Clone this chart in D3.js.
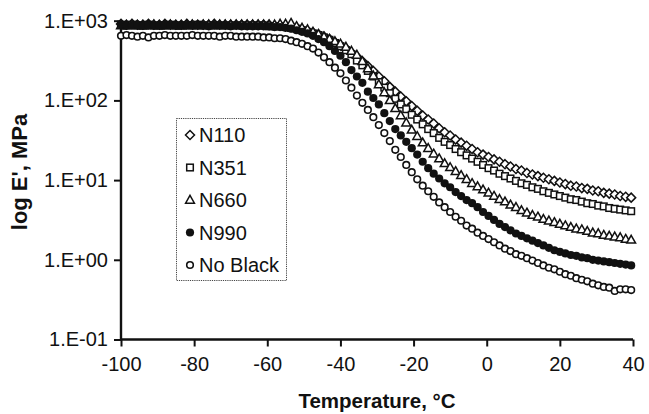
<!DOCTYPE html>
<html>
<head>
<meta charset="utf-8">
<script src="https://cdn.jsdelivr.net/npm/d3@7/dist/d3.min.js"></script>
<style>
  html, body { margin: 0; padding: 0; background: #fff; }
  svg { display: block; }
  text { font-family: "Liberation Sans", Arial, Helvetica, sans-serif; fill: #111; }
</style>
</head>
<body>
<svg id="chart" width="649" height="414"></svg>
<script>
// Storage modulus (log10 of E', MPa) against temperature for rubber compounds
const temps = [
  -100, -98.5, -97, -95.5, -94, -92.5, -91, -89.5, -88, -86.5,
  -85, -83.5, -82, -80.5, -79, -77.5, -76, -74.5, -73, -71.5,
  -70, -68.5, -67, -65.5, -64, -62.5, -61, -59.5, -58, -56.5,
  -55, -53.5, -52, -50.5, -49, -47.5, -46, -44.5, -43, -41.5,
  -40, -38.5, -37, -35.5, -34, -32.5, -31, -29.5, -28, -26.5,
  -25, -23.5, -22, -20.5, -19, -17.5, -16, -14.5, -13, -11.5,
  -10, -8.5, -7, -5.5, -4, -2.5, -1, 0.5, 2, 3.5,
  5, 6.5, 8, 9.5, 11, 12.5, 14, 15.5, 17, 18.5,
  20, 21.5, 23, 24.5, 26, 27.5, 29, 30.5, 32, 33.5,
  35, 36.5, 38, 39.5
];

const logN110 = [
  2.96, 2.95, 2.96, 2.95, 2.95, 2.96, 2.95, 2.95, 2.96, 2.95,
  2.95, 2.95, 2.96, 2.95, 2.95, 2.95, 2.95, 2.96, 2.95, 2.95,
  2.95, 2.95, 2.95, 2.95, 2.95, 2.95, 2.95, 2.95, 2.94, 2.94,
  2.93, 2.92, 2.91, 2.89, 2.87, 2.85, 2.83, 2.80, 2.77, 2.73,
  2.69, 2.65, 2.60, 2.55, 2.49, 2.43, 2.37, 2.30, 2.24, 2.17,
  2.11, 2.05, 1.99, 1.93, 1.87, 1.81, 1.76, 1.71, 1.65, 1.60,
  1.56, 1.51, 1.47, 1.43, 1.39, 1.35, 1.32, 1.29, 1.26, 1.23,
  1.20, 1.17, 1.14, 1.12, 1.09, 1.07, 1.05, 1.03, 1.01, 0.99,
  0.97, 0.95, 0.93, 0.92, 0.90, 0.89, 0.87, 0.86, 0.84, 0.83,
  0.82, 0.80, 0.79, 0.78
];

const logN351 = [
  2.95, 2.94, 2.95, 2.94, 2.94, 2.95, 2.94, 2.94, 2.94, 2.95,
  2.94, 2.94, 2.94, 2.94, 2.95, 2.94, 2.94, 2.94, 2.94, 2.94,
  2.94, 2.94, 2.94, 2.94, 2.94, 2.94, 2.94, 2.93, 2.93, 2.93,
  2.92, 2.91, 2.90, 2.88, 2.86, 2.84, 2.82, 2.79, 2.76, 2.72,
  2.68, 2.63, 2.58, 2.50, 2.44, 2.37, 2.30, 2.23, 2.16, 2.09,
  2.02, 1.95, 1.89, 1.82, 1.76, 1.70, 1.64, 1.59, 1.53, 1.48,
  1.44, 1.39, 1.35, 1.31, 1.27, 1.23, 1.19, 1.15, 1.12, 1.08,
  1.05, 1.02, 0.99, 0.96, 0.94, 0.91, 0.89, 0.86, 0.84, 0.82,
  0.80, 0.78, 0.76, 0.75, 0.73, 0.71, 0.70, 0.68, 0.67, 0.65,
  0.64, 0.63, 0.62, 0.61
];

const logN660 = [
  2.94, 2.94, 2.95, 2.94, 2.94, 2.94, 2.95, 2.94, 2.94, 2.95,
  2.94, 2.94, 2.95, 2.95, 2.94, 2.95, 2.95, 2.95, 2.95, 2.95,
  2.95, 2.95, 2.95, 2.95, 2.95, 2.95, 2.95, 2.95, 2.95, 2.96,
  2.96, 2.97, 2.93, 2.91, 2.89, 2.86, 2.83, 2.80, 2.77, 2.74,
  2.71, 2.67, 2.62, 2.57, 2.49, 2.40, 2.31, 2.20, 2.10, 2.00,
  1.90, 1.81, 1.72, 1.63, 1.55, 1.47, 1.40, 1.33, 1.27, 1.21,
  1.16, 1.11, 1.06, 1.01, 0.96, 0.92, 0.88, 0.84, 0.80, 0.76,
  0.73, 0.69, 0.66, 0.62, 0.59, 0.56, 0.54, 0.51, 0.49, 0.47,
  0.45, 0.43, 0.41, 0.39, 0.38, 0.36, 0.34, 0.33, 0.31, 0.30,
  0.29, 0.28, 0.26, 0.25
];

const logN990 = [
  2.95, 2.94, 2.94, 2.95, 2.94, 2.94, 2.94, 2.94, 2.95, 2.94,
  2.94, 2.94, 2.94, 2.94, 2.94, 2.94, 2.93, 2.94, 2.94, 2.94,
  2.93, 2.94, 2.93, 2.93, 2.93, 2.93, 2.93, 2.93, 2.92, 2.92,
  2.91, 2.90, 2.88, 2.86, 2.84, 2.81, 2.77, 2.73, 2.68, 2.62,
  2.56, 2.48, 2.38, 2.30, 2.22, 2.11, 2.03, 1.95, 1.84, 1.74,
  1.64, 1.56, 1.48, 1.40, 1.32, 1.23, 1.15, 1.08, 1.02, 0.96,
  0.91, 0.85, 0.80, 0.75, 0.71, 0.66, 0.60, 0.55, 0.50, 0.45,
  0.41, 0.37, 0.33, 0.30, 0.27, 0.24, 0.21, 0.18, 0.15, 0.12,
  0.10, 0.08, 0.06, 0.05, 0.03, 0.02, 0.00, -0.01, -0.02, -0.03,
  -0.04, -0.05, -0.06, -0.07
];

const logNoBlack = [
  2.81, 2.82, 2.81, 2.80, 2.81, 2.79, 2.81, 2.81, 2.82, 2.81,
  2.81, 2.81, 2.81, 2.82, 2.81, 2.81, 2.81, 2.81, 2.80, 2.81,
  2.81, 2.80, 2.80, 2.80, 2.80, 2.80, 2.79, 2.79, 2.78, 2.78,
  2.77, 2.75, 2.73, 2.71, 2.68, 2.65, 2.60, 2.54, 2.48, 2.41,
  2.34, 2.25, 2.16, 2.06, 1.97, 1.88, 1.79, 1.69, 1.59, 1.49,
  1.38, 1.29, 1.19, 1.10, 1.01, 0.93, 0.86, 0.79, 0.72, 0.66,
  0.60, 0.54, 0.49, 0.43, 0.39, 0.34, 0.30, 0.26, 0.22, 0.18,
  0.14, 0.11, 0.07, 0.05, 0.02, -0.01, -0.04, -0.07, -0.10, -0.12,
  -0.15, -0.18, -0.20, -0.23, -0.25, -0.27, -0.30, -0.32, -0.34, -0.35,
  -0.39, -0.37, -0.37, -0.38
];

const seriesNames = ["N110", "N351", "N660", "N990", "No Black"];
const seriesValues = [logN110, logN351, logN660, logN990, logNoBlack];
const seriesShapes = ["diamond", "square", "triangle", "dot", "circle"];

const xTicks = [-100, -80, -60, -40, -20, 0, 20, 40];
const yTicks = [-1, 0, 1, 2, 3];
const xTitle = "Temperature, \u00B0C";
const yTitle = "log E', MPa";

// ---- layout ----
const svg = d3.select("#chart");
const plot = { left: 121, right: 633, top: 20.7, bottom: 339.5 };

const x = d3.scaleLinear().domain([-100, 40]).range([plot.left, plot.right]);
const y = d3.scaleLinear().domain([-1, 3]).range([plot.bottom, plot.top]);

// tick labels in the "1.E+03" style, plain hyphen for negatives
const fmtExp = v => "1.E" + (v < 0 ? "-" : "+") + String(Math.abs(v)).padStart(2, "0");
const fmtTemp = v => String(v);

// ---- axes ----
const xAxis = svg.append("g")
  .attr("transform", `translate(0,${plot.bottom})`)
  .call(d3.axisBottom(x).tickValues(xTicks).tickSize(7).tickPadding(10).tickFormat(fmtTemp));
const yAxis = svg.append("g")
  .attr("transform", `translate(${plot.left},0)`)
  .call(d3.axisLeft(y).tickValues(yTicks).tickSize(7).tickPadding(6).tickFormat(fmtExp));

[xAxis, yAxis].forEach(g => {
  g.select(".domain").attr("stroke", "#111").attr("stroke-width", 2.4);
  g.selectAll(".tick line").attr("stroke", "#111").attr("stroke-width", 2);
  g.selectAll(".tick text")
    .attr("fill", "#111")
    .style("font-size", "20px")
    .style("font-family", '"Liberation Sans", Arial, sans-serif');
});
// plain axis lines without end caps
xAxis.select(".domain").attr("d", `M${plot.left},0H${plot.right}`);
yAxis.select(".domain").attr("d", `M0,${plot.top}V${plot.bottom}`);

// axis titles
svg.append("text")
  .attr("x", (plot.left + plot.right) / 2)
  .attr("y", 408)
  .attr("text-anchor", "middle")
  .style("font-size", "20.5px")
  .style("font-weight", "bold")
  .text(xTitle);

svg.append("text")
  .attr("transform", "translate(27,172) rotate(-90)")
  .attr("text-anchor", "middle")
  .style("font-size", "22px")
  .style("font-weight", "bold")
  .text(yTitle);

// ---- markers ----
function drawMarker(sel, shape) {
  if (shape === "circle") {
    sel.append("circle").attr("r", 3.3).attr("fill", "#fff").attr("stroke", "#111").attr("stroke-width", 1.6);
  } else if (shape === "dot") {
    sel.append("circle").attr("r", 4.1).attr("fill", "#111");
  } else if (shape === "square") {
    sel.append("rect").attr("x", -3.3).attr("y", -3.3).attr("width", 6.6).attr("height", 6.6)
      .attr("fill", "#fff").attr("stroke", "#111").attr("stroke-width", 1.5);
  } else if (shape === "diamond") {
    sel.append("path").attr("d", "M0,-4.5L4.5,0L0,4.5L-4.5,0Z")
      .attr("fill", "#fff").attr("stroke", "#111").attr("stroke-width", 1.5);
  } else if (shape === "triangle") {
    sel.append("path").attr("d", "M0,-4.6L4.4,3.2L-4.4,3.2Z")
      .attr("fill", "#fff").attr("stroke", "#111").attr("stroke-width", 1.5).attr("stroke-linejoin", "miter");
  }
}

const series = seriesNames.map((name, i) => ({
  name,
  shape: seriesShapes[i],
  points: temps.map((t, j) => ({ t, v: seriesValues[i][j] }))
}));

const marks = svg.append("g");
series.forEach(s => {
  const g = marks.append("g").attr("class", "series");
  s.points.forEach(p => {
    const m = g.append("g").attr("transform", `translate(${x(p.t)},${y(p.v)})`);
    drawMarker(m, s.shape);
  });
});

// ---- legend ----
const legend = svg.append("g");
legend.append("rect")
  .attr("x", 176.5).attr("y", 118.5).attr("width", 110).attr("height", 162)
  .attr("fill", "#fff").attr("stroke", "#444").attr("stroke-width", 1)
  .attr("stroke-dasharray", "1.2,1");
series.forEach((s, i) => {
  const cy = 135 + i * 32.5;
  const m = legend.append("g").attr("transform", `translate(190,${cy})`);
  drawMarker(m, s.shape);
  legend.append("text")
    .attr("x", 199).attr("y", cy + 7)
    .style("font-size", "20px")
    .text(s.name);
});
</script>
</body>
</html>
